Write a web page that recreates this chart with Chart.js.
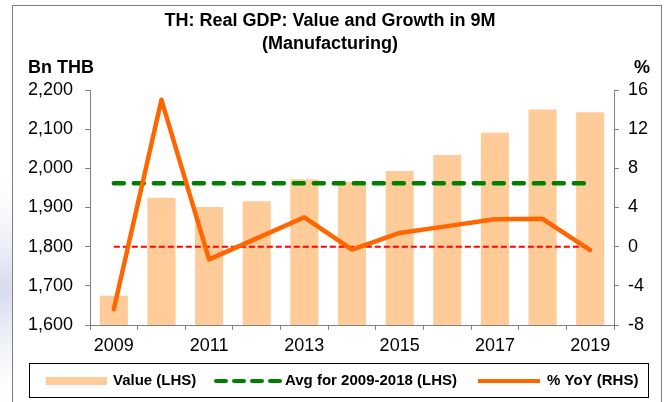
<!DOCTYPE html>
<html>
<head>
<meta charset="utf-8">
<script src="https://cdn.jsdelivr.net/npm/chart.js@4/dist/chart.umd.min.js"></script>
<style>
  html, body { margin: 0; padding: 0; background: #fff; }
  #wrap { width: 664px; height: 402px; }
</style>
</head>
<body>
<div id="wrap"><canvas id="gdpChart" width="664" height="402"></canvas></div>
<script>
const years = ['2009', '2010', '2011', '2012', '2013', '2014', '2015', '2016', '2017', '2018', '2019'];
const valueLHS = [1675, 1925, 1901, 1916, 1972, 1966, 1993, 2034, 2091, 2150, 2143];
const avgLHS = [1962, 1962, 1962, 1962, 1962, 1962, 1962, 1962, 1962, 1962, 1962];
const zeroLHS = [1800, 1800, 1800, 1800, 1800, 1800, 1800, 1800, 1800, 1800, 1800];
const yoyRHS = [-6.4, 15.0, -1.3, 0.85, 3.0, -0.3, 1.4, 2.1, 2.8, 2.85, -0.35];

const FONT = "'Liberation Sans', Arial, sans-serif";
Chart.defaults.font.family = FONT;
Chart.defaults.color = '#000';

const AXIS = '#808080';
const PEACH = '#FFCC99';
const GREEN = '#008000';
const ORANGE = '#FF6600';

// frame, titles and the boxed legend
const decor = {
  id: 'decor',
  beforeDraw(chart) {
    const c = chart.ctx;
    c.save();
    c.fillStyle = '#fff';
    c.fillRect(0, 0, chart.width, chart.height);
    // faint bluish shade left of the frame
    const g = c.createRadialGradient(0, 290, 5, 0, 290, 130);
    g.addColorStop(0, 'rgba(215,220,238,1)');
    g.addColorStop(1, 'rgba(255,255,255,0)');
    c.fillStyle = g;
    c.fillRect(0, 140, 12, 262);
    c.strokeStyle = '#7f7f7f';
    c.lineWidth = 1;
    c.strokeRect(12.5, 5.5, 649, 420);
    c.restore();
  },
  afterDraw(chart) {
    const c = chart.ctx;
    c.save();
    c.fillStyle = '#000';
    c.textAlign = 'center';
    c.textBaseline = 'middle';
    c.font = 'bold 18px ' + FONT;
    c.fillText('TH: Real GDP: Value and Growth in 9M', 330, 21);
    c.fillText('(Manufacturing)', 330, 44);
    c.font = 'bold 18px ' + FONT;
    c.textAlign = 'left';
    c.fillText('Bn THB', 28, 68);
    c.textAlign = 'right';
    c.fillText('%', 650, 68);

    // legend
    c.strokeStyle = '#000';
    c.lineWidth = 1;
    c.strokeRect(29.5, 363.5, 619, 34);
    const ly = 381;
    c.fillStyle = PEACH;
    c.fillRect(46, ly - 4, 61, 8);
    c.strokeStyle = GREEN;
    c.lineWidth = 4;
    c.lineCap = 'round';
    c.setLineDash([10, 8]);
    c.beginPath();
    c.moveTo(216, ly);
    c.lineTo(280, ly);
    c.stroke();
    c.setLineDash([]);
    c.strokeStyle = ORANGE;
    c.lineCap = 'butt';
    c.beginPath();
    c.moveTo(478, ly);
    c.lineTo(540, ly);
    c.stroke();
    c.fillStyle = '#000';
    c.font = 'bold 15px ' + FONT;
    c.textAlign = 'left';
    c.fillText('Value (LHS)', 113, ly);
    c.fillText('Avg for 2009-2018 (LHS)', 285, ly);
    c.fillText('% YoY (RHS)', 547, ly);
    c.restore();
  }
};

const ctx = document.getElementById('gdpChart').getContext('2d');
const gdpChart = new Chart(ctx, {
  data: {
    labels: years,
    datasets: [
      { type: 'line', label: '% YoY (RHS)', data: yoyRHS, yAxisID: 'y1', borderColor: ORANGE, borderWidth: 4.5,
        pointRadius: 0, tension: 0, borderCapStyle: 'round', borderJoinStyle: 'round', order: 1 },
      { type: 'line', label: 'Avg for 2009-2018 (LHS)', data: avgLHS, yAxisID: 'y', borderColor: GREEN, borderWidth: 4.5,
        borderDash: [10, 10], borderCapStyle: 'round', pointRadius: 0, order: 2 },
      { type: 'line', label: 'zero', data: zeroLHS, yAxisID: 'y', borderColor: '#FF0000', borderWidth: 2,
        borderDash: [6, 3], pointRadius: 0, order: 3 },
      { type: 'bar', label: 'Value (LHS)', data: valueLHS, yAxisID: 'y', backgroundColor: PEACH,
        barPercentage: 0.59, categoryPercentage: 1, order: 4 }
    ]
  },
  options: {
    responsive: false,
    animation: false,
    layout: { padding: { top: 90, left: 0, right: 0, bottom: 0 } },
    plugins: { legend: { display: false }, title: { display: false }, tooltip: { enabled: false } },
    scales: {
      x: {
        offset: true,
        grid: { drawOnChartArea: false, drawTicks: true, tickLength: 5, color: AXIS, offset: true },
        border: { color: AXIS },
        ticks: { font: { size: 18 }, color: '#000', autoSkip: false, maxRotation: 0, padding: 5,
          callback: (v, i) => (i % 2 === 0 ? years[i] : '') },
        afterFit: s => { s.height = 77; }
      },
      y: {
        position: 'left', min: 1600, max: 2200,
        grid: { drawOnChartArea: false, tickLength: 5, color: AXIS },
        border: { color: AXIS },
        ticks: { stepSize: 100, font: { size: 18 }, color: '#000', padding: 12 },
        afterFit: s => { s.width = 90; }
      },
      y1: {
        position: 'right', min: -8, max: 16,
        grid: { drawOnChartArea: false, tickLength: 5, color: AXIS },
        border: { color: AXIS },
        ticks: { stepSize: 4, font: { size: 18 }, color: '#000', padding: 9 },
        afterFit: s => { s.width = 50; }
      }
    }
  },
  plugins: [decor]
});
window.gdpChart = gdpChart;
</script>
</body>
</html>
